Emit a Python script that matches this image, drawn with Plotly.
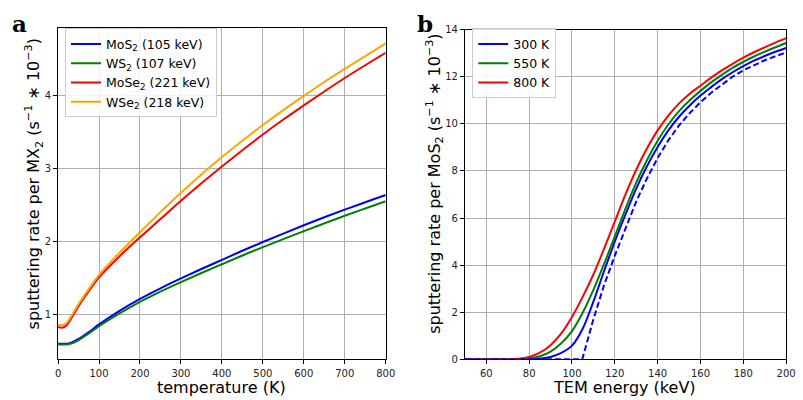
import plotly.graph_objects as go

# ---- panel a: sputtering rate vs temperature ----
temperature_K = [0, 10, 20, 30, 40, 50, 75, 100, 150, 200, 250, 300, 350, 400, 450, 500,
                 550, 600, 650, 700, 750, 800]
rate_MoS2 = [0.60, 0.60, 0.60, 0.61, 0.635, 0.665, 0.76, 0.865, 1.05, 1.215, 1.36, 1.495, 1.625,
             1.75, 1.875, 1.995, 2.11, 2.225, 2.335, 2.44, 2.54, 2.64]
rate_WS2 = [0.59, 0.59, 0.59, 0.60, 0.62, 0.65, 0.74, 0.84, 1.015, 1.175, 1.315, 1.445, 1.57,
            1.69, 1.81, 1.925, 2.035, 2.145, 2.25, 2.355, 2.455, 2.555]
rate_MoSe2 = [0.83, 0.82, 0.85, 0.93, 1.02, 1.115, 1.32, 1.51, 1.80, 2.06, 2.31, 2.56, 2.80,
              3.03, 3.255, 3.47, 3.675, 3.87, 4.06, 4.245, 4.42, 4.59]
rate_WSe2 = [0.86, 0.855, 0.88, 0.96, 1.05, 1.145, 1.35, 1.545, 1.85, 2.13, 2.405, 2.67, 2.92,
             3.16, 3.385, 3.60, 3.805, 4.00, 4.19, 4.37, 4.545, 4.72]

# ---- panel b: MoS2 sputtering rate vs beam energy ----
energy_keV = [50, 60, 70, 75, 80, 85, 90, 95, 100, 105, 110, 115, 120, 125, 130, 135, 140,
              145, 150, 155, 160, 165, 170, 175, 180, 185, 190, 195, 200]
rate_300K = [0, 0, 0, 0, 0.0, 0.03, 0.10, 0.27, 0.58, 1.3, 2.45, 3.75, 5.0, 6.15, 7.25, 8.2,
             9.02, 9.72, 10.3, 10.78, 11.2, 11.56, 11.9, 12.19, 12.45, 12.68, 12.88, 13.06, 13.22]
rate_550K = [0, 0, 0, 0, 0.04, 0.13, 0.33, 0.68, 1.2, 1.98, 2.95, 4.05, 5.22, 6.4, 7.5, 8.45,
             9.28, 9.97, 10.54, 11.0, 11.4, 11.76, 12.08, 12.38, 12.63, 12.86, 13.06, 13.25, 13.43]
rate_800K = [0, 0, 0.0, 0.02, 0.10, 0.28, 0.60, 1.10, 1.80, 2.65, 3.6, 4.7, 5.85, 7.0, 8.05,
             8.95, 9.72, 10.35, 10.87, 11.28, 11.62, 11.96, 12.27, 12.55, 12.81, 13.04, 13.25,
             13.45, 13.64]
energy_static = [50, 104.8, 110, 115, 120, 125, 130, 135, 140, 145, 150, 155, 160, 165, 170,
                 175, 180, 185, 190, 195, 200]
rate_static = [0, 0, 1.7, 3.15, 4.4, 5.58, 6.7, 7.68, 8.55, 9.3, 9.93, 10.46, 10.92, 11.32, 11.68,
               12.0, 12.27, 12.5, 12.7, 12.87, 13.02]

FONT = "DejaVu Sans"
W, H = 803, 400

fig = go.Figure()

lw = 2
for name, y, col in [
    ("MoS<sub>2</sub> (105 keV)", rate_MoS2, "#0000ff"),
    ("WS<sub>2</sub> (107 keV)", rate_WS2, "#008000"),
    ("MoSe<sub>2</sub> (221 keV)", rate_MoSe2, "#ff0000"),
    ("WSe<sub>2</sub> (218 keV)", rate_WSe2, "#ffa500"),
]:
    fig.add_trace(go.Scatter(x=temperature_K, y=y, mode="lines", name=name,
                             line=dict(color=col, width=lw, shape="spline", smoothing=1.0),
                             xaxis="x", yaxis="y", legend="legend"))

for name, y, col in [
    ("300 K", rate_300K, "#0000ff"),
    ("550 K", rate_550K, "#008000"),
    ("800 K", rate_800K, "#ff0000"),
]:
    fig.add_trace(go.Scatter(x=energy_keV, y=y, mode="lines", name=name,
                             line=dict(color=col, width=lw, shape="spline", smoothing=1.0),
                             xaxis="x2", yaxis="y2", legend="legend2"))

# 300 K static-lattice estimate (dashed)
fig.add_trace(go.Scatter(x=energy_static, y=rate_static, mode="lines", showlegend=False,
                         line=dict(color="#0000ff", width=lw, dash="6px,3px"),
                         xaxis="x2", yaxis="y2"))

axis_common = dict(showline=True, linecolor="black", linewidth=1, mirror=True,
                   ticks="outside", ticklen=4, tickcolor="black", tickwidth=1,
                   showgrid=True, gridcolor="#b0b0b0", gridwidth=1, zeroline=False,
                   tickfont=dict(family=FONT, size=10, color="#222222"))

legend_common = dict(xanchor="left", yanchor="top",
                     bgcolor="rgba(255,255,255,0.85)", bordercolor="#cccccc", borderwidth=1,
                     font=dict(family=FONT, size=12.5, color="black"), itemwidth=30,
                     tracegroupgap=0)

fig.update_layout(
    width=W, height=H,
    margin=dict(l=0, r=0, t=0, b=0),
    paper_bgcolor="white", plot_bgcolor="white",
    font=dict(family=FONT, color="black"),
    xaxis=dict(domain=[56 / W, 389 / W], range=[0, 800], tickvals=list(range(0, 801, 100)),
               anchor="y", ticklabelstandoff=1, **axis_common),
    yaxis=dict(domain=[1 - 363 / H, 1 - 22.7 / H], range=[0.39, 4.93], tickvals=[1, 2, 3, 4],
               anchor="x", **axis_common),
    xaxis2=dict(domain=[469.5 / W, 796 / W], range=[50, 200], tickvals=list(range(60, 201, 20)),
                anchor="y2", ticklabelstandoff=1, **axis_common),
    yaxis2=dict(domain=[1 - 363.3 / H, 1 - 24.3 / H], range=[0, 14], tickvals=list(range(0, 15, 2)),
                anchor="x2", **axis_common),
    legend=dict(x=63 / W, y=1 - 23 / H, **legend_common),
    legend2=dict(x=477 / W, y=1 - 23 / H, **legend_common),
)

title_font = dict(family=FONT, size=16, color="black")
annotations = [
    dict(text="sputtering rate per MX<sub>2</sub> (s<sup>−1</sup> ∗ 10<sup>−3</sup>)",
         x=32 / W, y=1 - 183 / H, textangle=-90),
    dict(text="sputtering rate per MoS<sub>2</sub> (s<sup>−1</sup> ∗ 10<sup>−3</sup>)",
         x=439 / W, y=1 - 183 / H, textangle=-90),
    dict(text="temperature (K)", x=222 / W, y=1 - 392 / H),
    dict(text="TEM energy (keV)", x=632 / W, y=1 - 392 / H),
]
for a in annotations:
    fig.add_annotation(xref="paper", yref="paper", xanchor="center", yanchor="middle",
                       showarrow=False, font=title_font, **a)

for letter, xpos, ypos in [("a", 17, 18), ("b", 429, 18)]:
    fig.add_annotation(xref="paper", yref="paper", x=xpos / W, y=1 - ypos / H,
                       xanchor="center", yanchor="middle", showarrow=False,
                       text=f"<b>{letter}</b>",
                       font=dict(family="DejaVu Serif", size=23, color="black"))

fig.write_html("out.html")
